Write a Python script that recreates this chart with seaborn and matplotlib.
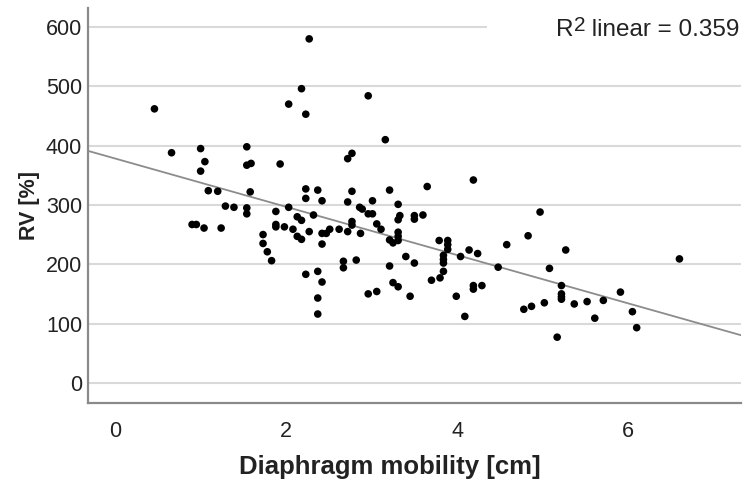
import numpy as np
import pandas as pd
import seaborn as sns
import matplotlib.pyplot as plt
from matplotlib.patches import Rectangle

# values
mobility = [0.46, 0.66, 1.00, 1.05, 1.00, 1.09, 1.20, 1.54, 1.54, 1.59,
            1.58, 1.93, 2.18, 2.03, 2.23, 2.27, 2.23, 2.37, 2.96, 3.16,
            2.72, 2.77, 2.77, 3.21, 3.65, 4.19, 2.23, 2.42, 1.29, 1.39,
            1.54, 1.54, 1.88, 2.03, 2.13, 2.18, 2.32, 0.90, 0.95, 1.04,
            1.24, 1.88, 1.88, 1.98, 2.08, 2.13, 2.18, 2.27, 2.42, 2.42,
            1.73, 1.73, 1.78, 1.83, 2.23, 2.37, 2.42, 2.37, 2.37, 2.72,
            3.01, 3.31, 2.86, 2.89, 2.96, 3.01, 3.33, 3.31, 3.50, 3.50,
            3.60, 2.77, 2.77, 3.06, 3.11, 2.51, 2.47, 2.62, 2.72, 2.87,
            3.31, 3.31, 3.31, 3.21, 3.25, 3.79, 3.89, 3.89, 3.89, 4.14,
            4.24, 4.04, 3.84, 3.84, 3.84, 3.84, 4.48, 4.58, 2.67, 2.67,
            2.82, 3.21, 3.40, 3.50, 3.80, 3.70, 3.25, 3.31, 4.19, 4.19,
            4.29, 2.96, 3.06, 3.45, 3.99, 4.09, 4.97, 4.83, 5.27, 6.60,
            5.08, 5.22, 5.22, 5.22, 5.22, 5.91, 5.71, 5.52, 5.37, 5.02,
            4.87, 4.78, 6.05, 5.61, 6.10, 5.17]
rv = [462, 388, 395, 373, 357, 324, 323, 398, 367, 370,
      322, 369, 496, 470, 453, 580, 327, 325, 484, 410,
      378, 387, 323, 325, 331, 342, 311, 307, 298, 296,
      295, 285, 289, 296, 280, 274, 283, 267, 267, 261,
      261, 267, 263, 263, 259, 247, 242, 255, 252, 234,
      250, 235, 221, 206, 183, 188, 170, 143, 116, 305,
      307, 301, 296, 293, 285, 285, 282, 275, 282, 276,
      283, 272, 266, 268, 259, 259, 252, 259, 255, 252,
      254, 247, 240, 241, 236, 240, 240, 233, 225, 224,
      218, 213, 215, 208, 202, 188, 195, 233, 205, 194,
      207, 197, 213, 202, 177, 173, 169, 162, 164, 158,
      164, 150, 154, 146, 146, 112, 288, 248, 224, 209,
      193, 164, 150, 145, 141, 153, 139, 137, 133, 135,
      129, 124, 120, 109, 93, 77]
y_ticks = [0, 100, 200, 300, 400, 500, 600]
x_ticks = [0, 2, 4, 6]
r2_value = "0.359"

df = pd.DataFrame({"mobility": mobility, "rv": rv})

sns.set_style("white")
plt.rcParams["font.family"] = ["Liberation Sans", "DejaVu Sans"]
txt = "#222222"

fig = plt.figure(figsize=(7.5, 4.87), dpi=100)
ax = fig.add_axes([0.117, 0.1725, 0.871, 0.811])
ax.set_xlim(-0.32, 7.32)
ax.set_ylim(-34, 632)

ax.set_axisbelow(True)
ax.yaxis.grid(True, color="#d9d9d9", linewidth=1.5)
ax.xaxis.grid(False)

sns.scatterplot(data=df, x="mobility", y="rv", ax=ax, color="black",
                s=30, edgecolor="none", zorder=3)
sns.regplot(data=df, x="mobility", y="rv", ax=ax, scatter=False,
            truncate=False, ci=None, color="#8c8c8c",
            line_kws={"linewidth": 1.3, "zorder": 2})
ax.set_xlim(-0.32, 7.32)
ax.set_ylim(-34, 632)

# white box behind the R² label hides the top gridline
ax.add_patch(Rectangle((0.611, 0.9), 0.4, 0.1, transform=ax.transAxes,
                       facecolor="white", edgecolor="none", zorder=1))
t1 = ax.text(0.998, 0.972, " linear = " + r2_value, transform=ax.transAxes,
             ha="right", va="top", fontsize=17.5, color=txt, zorder=4)
t2 = ax.annotate("2", xy=(0, 1.14), xycoords=t1, ha="right", va="top",
                 fontsize=15, color=txt, zorder=4)
ax.annotate("R", xy=(0, 0), xycoords=(t2, t1), ha="right", va="bottom",
            fontsize=17.5, color=txt, zorder=4)

ax.set_xticks(x_ticks)
ax.set_yticks(y_ticks)
ax.tick_params(axis="both", length=0, labelsize=15.5, colors=txt)
ax.tick_params(axis="x", pad=13)
ax.tick_params(axis="y", pad=4)

for side in ["top", "right"]:
    ax.spines[side].set_visible(False)
for side in ["left", "bottom"]:
    ax.spines[side].set_color("#8a8a8a")
    ax.spines[side].set_linewidth(1.6)

ax.set_xlabel("Diaphragm mobility [cm]", fontsize=18.5, fontweight="bold",
              color=txt)
ax.xaxis.set_label_coords(0.462, -0.132)
ax.set_ylabel("RV [%]", fontsize=15.5, fontweight="bold", color=txt,
              labelpad=4)

fig.savefig("out.png", dpi=100)
